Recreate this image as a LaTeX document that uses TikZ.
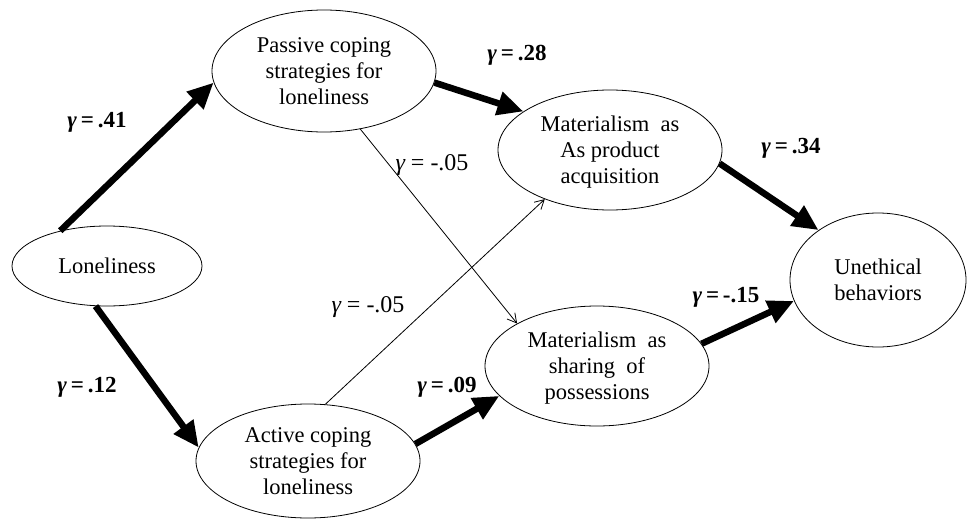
\documentclass[tikz,border=0pt]{standalone}
\usepackage{fontspec}
\setmainfont{Liberation Serif}
\usetikzlibrary{shapes.geometric, arrows.meta}
\newcommand{\gm}{{\itshape γ}}

\begin{document}
\begin{tikzpicture}[x=1pt, y=-1pt, >={Triangle[length=26pt,width=23pt]},
                    construct/.style={ellipse, draw, line width=0.8pt, inner sep=0pt, align=center,
                                      font=\fontsize{22.5}{26}\selectfont, text depth=0pt},
                    strong/.style={->, line width=6.5pt},
                    weak/.style={-{Straight Barb[length=9pt,width=10pt]}, line width=0.8pt},
                    coef/.style={font=\fontsize{23}{26}\selectfont\bfseries},
                    coefthin/.style={font=\fontsize{24}{28}\selectfont}]

                    \useasboundingbox (0,0) rectangle (976,519);

                    \node[construct, minimum width=190pt, minimum height=80pt] (lone) at (107,266) {Loneliness};
                    \node[construct, minimum width=224pt, minimum height=122pt] (pass) at (324,71)
                         {Passive coping\\strategies for\\loneliness};
                    \node[construct, minimum width=224pt, minimum height=114pt] (act) at (308,461)
                         {Active coping\\strategies for\\loneliness};
                    \node[construct, minimum width=224pt, minimum height=120pt] (prod) at (610,150)
                         {Materialism~ as\\As product\\acquisition};
                    \node[construct, minimum width=224pt, minimum height=120pt] (share) at (597,366)
                         {Materialism~ as\\sharing~ of\\possessions};
                    \node[construct, minimum width=176pt, minimum height=134pt] (uneth) at (878,280)
                         {Unethical\\behaviors};

                    \path[strong]
                    (lone.143) edge (pass.186)
                    (lone.254) edge (act.173)
                    (pass.354) edge (prod.156)
                    (act.9)    edge (share.197)
                    (prod.353) edge (uneth.140)
                    (share.12) edge (uneth.194);

                    \path[weak]
                    (pass.302) edge (share.152)
                    (act.73)   edge (prod.217);

                    \node[coef] (g41) at (97,122) {\gm\,=\,.41};
                    \node[coef] (g12) at (87,387) {\gm\,=\,.12};
                    \node[coef] (g28) at (517,55) {\gm\,=\,.28};
                    \node[coef] (g09) at (447,387) {\gm\,=\,.09};
                    \node[coef] (g34) at (791,148) {\gm\,=\,.34};
                    \node[coef] (g15) at (726,297) {\gm\,=\,-.15};
                    \node[coefthin] (g05a) at (432,165) {{\itshape γ} = -.05};
                    \node[coefthin] (g05b) at (368,307) {{\itshape γ} = -.05};
                \end{tikzpicture}
\end{document}
